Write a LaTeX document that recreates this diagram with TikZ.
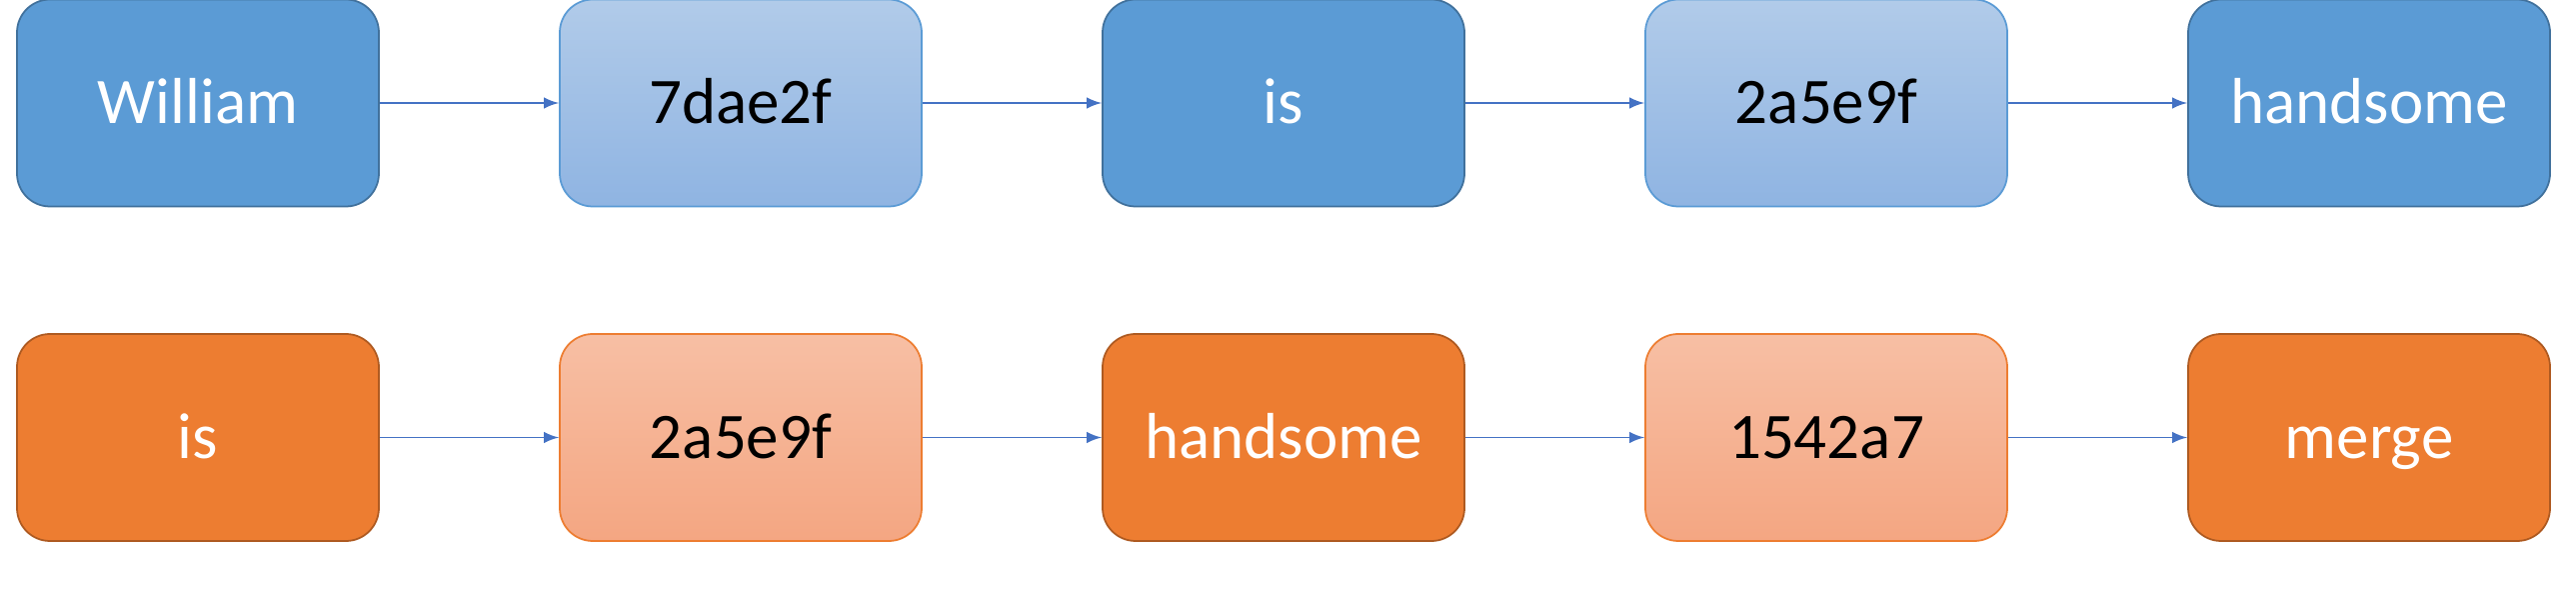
\documentclass[tikz,border=0pt]{standalone}
\usepackage{fontspec}
\setmainfont{Carlito}
\usetikzlibrary{positioning, arrows}
\definecolor{bluefill}{HTML}{5B9BD5}
\definecolor{blueline}{HTML}{41719C}
\definecolor{bluetop}{HTML}{B1CBE9}
\definecolor{bluebot}{HTML}{8FB4E2}
\definecolor{orangefill}{HTML}{ED7D31}
\definecolor{orangeline}{HTML}{AE5A21}
\definecolor{orangetop}{HTML}{F7BFA4}
\definecolor{orangebot}{HTML}{F4A682}
\definecolor{arrowblue}{HTML}{4472C4}
\tikzset{
    on grid,
    node distance=5.43cm,
    >=latex,
    box/.style={rounded corners=0.33cm, minimum width=3.62cm, minimum height=2.07cm,
        text height=11.9pt, text depth=0pt,
        line width=0.5pt, font=\fontsize{18.5}{22}\selectfont},
    blueword/.style={box, draw=blueline, fill=bluefill, text=white},
    bluehash/.style={box, draw=bluefill, top color=bluetop, bottom color=bluebot, text=black},
    orangeword/.style={box, draw=orangeline, fill=orangefill, text=white},
    orangehash/.style={box, draw=orangefill, top color=orangetop, bottom color=orangebot, text=black},
}

\begin{document}
\begin{tikzpicture}
    \useasboundingbox (0,0) rectangle (25.77,5.89);
        \node[blueword] (b0) at (1.98,4.86) {William};
        \node[bluehash, right=of b0] (b1) {7dae2f};
        \node[blueword, right=of b1] (b2) {is};
        \node[bluehash, right=of b2] (b3) {2a5e9f};
        \node[blueword, right=of b3] (b4) {handsome};

        \node[orangeword, below=3.345cm of b0] (o0) {is};
        \node[orangehash, right=of o0] (o1) {2a5e9f};
        \node[orangeword, right=of o1] (o2) {handsome};
        \node[orangehash, right=of o2] (o3) {1542a7};
        \node[orangeword, right=of o3] (o4) {merge};

    \path[->, color=arrowblue, line width=0.5pt]
        (b0) edge (b1)
        (b1) edge (b2)
        (b2) edge (b3)
        (b3) edge (b4)
        (o0) edge (o1)
        (o1) edge (o2)
        (o2) edge (o3)
        (o3) edge (o4);
\end{tikzpicture}
\end{document}
